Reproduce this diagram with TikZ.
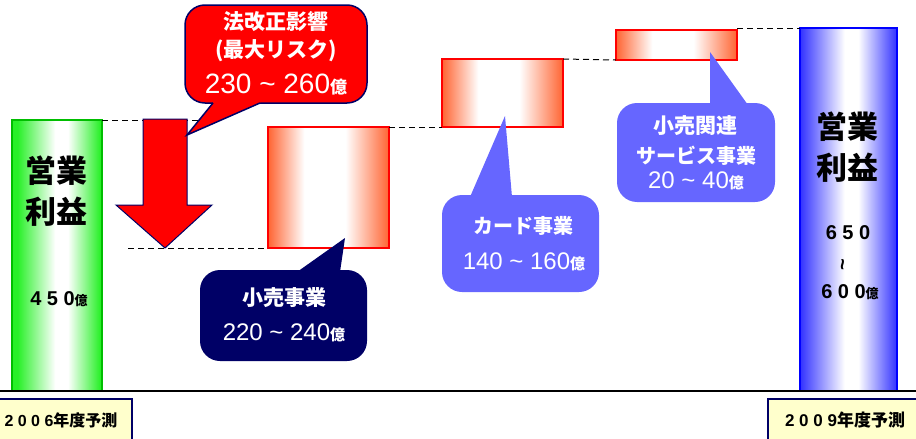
\documentclass[tikz,border=0pt]{standalone}
\usepackage{fontspec}
\setmainfont{Liberation Sans}
\newfontfamily\jp{Noto Sans CJK JP}
\newcommand\fs[1]{\fontsize{#1}{#1}\selectfont}
\newcommand\oku[1]{{\jp\bfseries\fs{#1}億}}
\newcommand\til{\textasciitilde}
\definecolor{navy}{RGB}{0,0,102}
\definecolor{gedge}{RGB}{40,240,40}
\definecolor{gline}{RGB}{0,190,0}
\definecolor{redge}{RGB}{255,100,50}
\definecolor{bedge}{RGB}{50,50,255}
\definecolor{lav}{RGB}{102,102,255}
\definecolor{cream}{RGB}{255,255,204}
\pgfdeclarehorizontalshading{greenbar}{100bp}{color(0bp)=(gedge); color(28bp)=(gedge); color(49bp)=(white); color(56bp)=(white); color(74bp)=(gedge); color(100bp)=(gedge)}
\pgfdeclarehorizontalshading{redbox}{100bp}{color(0bp)=(redge); color(25bp)=(redge); color(40bp)=(white); color(57bp)=(white); color(75bp)=(redge); color(100bp)=(redge)}
\pgfdeclarehorizontalshading{bluebar}{100bp}{color(0bp)=(bedge); color(25bp)=(bedge); color(48bp)=(white); color(55bp)=(white); color(75bp)=(bedge); color(100bp)=(bedge)}
\tikzset{
  bar/.style={rectangle, inner sep=0pt, outer sep=0pt, anchor=north west},
  rbox/.style={bar, shading=redbox, draw=red, line width=1.2pt, minimum width=121pt},
  guide/.style={draw=black, dash pattern=on 6pt off 4pt, line width=1pt},
  bartext/.style={font={\jp\bfseries\fs{31}}, inner sep=0pt},
  barnum/.style={font={\bfseries\fs{20}}, inner sep=0pt},
  calltext/.style={text=white, font={\jp\bfseries\fs{21}}, inner sep=0pt},
  callnum/.style={text=white, font={\fs{24}}, inner sep=0pt},
  labelbox/.style={rectangle, fill=cream, draw=navy, line width=2pt, inner sep=0pt, anchor=north west},
  labeltext/.style={font={\bfseries\fs{16}}, inner sep=0pt},
  callbody/.style={rounded corners=20pt},
}
\begin{document}
\begin{tikzpicture}[x=1pt,y=-1pt]
\useasboundingbox (0,0) rectangle (916,439);
% bars
\node[bar, shading=greenbar, draw=gline, line width=1.5pt, minimum width=90pt, minimum height=271pt] (G) at (12,120) {};
\node[bar, shading=bluebar, draw=blue, line width=1.5pt, minimum width=97pt, minimum height=363pt] (B) at (800,28) {};
% red boxes
\node[rbox, minimum height=121pt] (R1) at (268,127) {};
\node[rbox, minimum height=68pt] (R2) at (442,59) {};
\node[rbox, minimum height=30pt] (R3) at (616,30) {};
% dashed guides
\coordinate (d1e) at (205,120);
\coordinate (d2s) at (128,248);
\path[guide] (G.north east) -- (d1e);
\path[guide] (d2s) -- (R1.south west);
\path[guide] (R1.north east) -- (R2.south west);
\path[guide] (R2.north east) -- (R3.south west);
\path[guide] (B.north west -| R3.east) -- (B.north west);
% baseline
\coordinate (bl) at (0,391);
\coordinate (br) at (916,391);
\draw[line width=1.5pt] (bl) -- (br);
% red arrow
\path[fill=red, draw=navy, line width=1pt, line join=miter] (143,119) -- (187,119) -- (187,205) -- (212,205) -- (165,248) -- (116,205) -- (143,205) -- cycle;
% red callout
\path[callbody, fill=red, draw=navy, line width=1.5pt] (185,5) rectangle (367,103);
\path[fill=red] (213,98) -- (213,103) -- (187,135) -- (260,103) -- (260,98) -- cycle;
\path[draw=navy, line width=1.5pt, line join=miter] (213,103) -- (187,135) -- (260,103);
\node[calltext] (c1a) at (276,22) {法改正影響};
\node[calltext] (c1b) at (276,51) {(最大リスク)};
\node[callnum, font={\fs{28}}] (c1c) at (276,85) {230 \til{} 260\oku{17}};
% navy callout
\path[callbody, fill=navy] (200,270) rectangle (367,361);
\path[fill=navy] (297,272) -- (345,238) -- (340,272) -- cycle;
\node[calltext] (c2a) at (284,298) {小売事業};
\node[callnum] (c2b) at (284,333) {220 \til{} 240\oku{15}};
% card callout
\path[callbody, fill=lav] (442,195) rectangle (599,292);
\path[fill=lav] (470,197) -- (505,116) -- (512,197) -- cycle;
\node[calltext, font={\jp\bfseries\fs{20}}] (c3a) at (523,226) {カード事業};
\node[callnum] (c3b) at (524,262) {140 \til{} 160\oku{15}};
% related-services callout
\path[callbody, fill=lav] (617,103) rectangle (775,202);
\path[fill=lav] (710,105) -- (710,52) -- (748,105) -- cycle;
\node[calltext] (c4a) at (695,126) {小売関連};
\node[calltext, font={\jp\bfseries\fs{20}}] (c4b) at (696,156) {サービス事業};
\node[callnum] (c4c) at (696,181) {20 \til{} 40\oku{15}};
% bar texts
\node[bartext] (g1) at (56,171) {営業};
\node[bartext] (g2) at (56,212) {利益};
\node[barnum] (g3) at (59,299) {4 5 0\oku{13}};
\node[bartext] (b1) at (847,127) {営業};
\node[bartext] (b2) at (847,168) {利益};
\node[barnum] (b3) at (848,233) {6 5 0};
\node[font={\bfseries\fs{20}}, inner sep=0pt, rotate=90] (b4) at (845,265) {\til};
\node[barnum] (b5) at (850,292) {6 0 0\oku{13}};
% year labels
\node[labelbox, minimum width=145pt, minimum height=50pt] (L1) at (-14,398) {};
\node[labeltext] (l1) at (61,420) {2 0 0 6{\jp 年度予測}};
\node[labelbox, minimum width=160pt, minimum height=50pt] (L2) at (767,398) {};
\node[labeltext, font={\bfseries\fs{17}}] (l2) at (845,420) {2 0 0 9{\jp 年度予測}};
\end{tikzpicture}
\end{document}
